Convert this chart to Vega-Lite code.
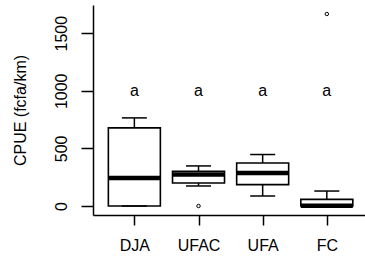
{
  "$schema": "https://vega.github.io/schema/vega-lite/v6.json",
  "autosize": "none",
  "width": 272,
  "height": 210,
  "padding": {"left": 93, "top": 5, "right": 0, "bottom": 43},
  "background": "white",
  "view": {"stroke": "transparent"},
  "config": {
    "view": {"stroke": "transparent"},
    "font": "Liberation Sans",
    "axis": {"grid": false, "domainColor": "black", "tickColor": "black", "labelColor": "black", "titleColor": "black", "domainWidth": 1.5, "tickWidth": 1.5, "labelFont": "Liberation Sans", "titleFont": "Liberation Sans", "titleFontWeight": "normal"}
  },
  "datasets": {
    "stats": [
      {"group": "DJA", "lower": 0, "q1": 0, "median": 243, "q3": 678, "upper": 765},
      {"group": "UFAC", "lower": 174, "q1": 200, "median": 273, "q3": 302, "upper": 348},
      {"group": "UFA", "lower": 87, "q1": 186, "median": 287, "q3": 374, "upper": 447},
      {"group": "FC", "lower": 0, "q1": 0, "median": 2, "q3": 58, "upper": 130}
    ],
    "outliers": [
      {"group": "UFAC", "value": 0},
      {"group": "FC", "value": 1667}
    ],
    "letters": [
      {"group": "DJA", "letter": "a"},
      {"group": "UFAC", "letter": "a"},
      {"group": "UFA", "letter": "a"},
      {"group": "FC", "letter": "a"}
    ]
  },
  "layer": [
    {
      "data": {"name": "stats"},
      "mark": {"type": "rule", "color": "black", "strokeWidth": 1.5},
      "encoding": {
        "x": {"field": "group", "type": "nominal", "sort": ["DJA", "UFAC", "UFA", "FC"],
              "scale": {"type": "point", "padding": 0.62, "align": 0.52},
              "axis": {"orient": "bottom", "title": null, "labelAngle": 0, "tickSize": 10, "labelPadding": 12, "labelFontSize": 16}},
        "y": {"field": "lower", "type": "quantitative",
              "scale": {"domain": [-78, 1745], "nice": false, "zero": false},
              "axis": {"orient": "left", "values": [0, 500, 1000, 1500], "format": "d", "tickSize": 12, "labelAngle": -90, "labelAlign": "center", "labelBaseline": "bottom", "labelPadding": 12, "labelFontSize": 16, "title": "CPUE (fcfa/km)", "titleFontSize": 16, "titlePadding": 25}},
        "y2": {"field": "upper"}
      }
    },
    {
      "mark": {"type": "rule", "color": "black", "strokeWidth": 1.5},
      "encoding": {
        "y": {"datum": 1745, "type": "quantitative"}
      }
    },
    {
      "data": {"name": "stats"},
      "mark": {"type": "bar", "fill": "white", "stroke": "black", "strokeWidth": 1.6, "size": 52},
      "encoding": {
        "x": {"field": "group", "type": "nominal", "sort": ["DJA", "UFAC", "UFA", "FC"]},
        "y": {"field": "q1", "type": "quantitative"},
        "y2": {"field": "q3"}
      }
    },
    {
      "data": {"name": "stats"},
      "mark": {"type": "tick", "color": "black", "size": 52, "thickness": 4.5, "opacity": 1},
      "encoding": {
        "x": {"field": "group", "type": "nominal", "sort": ["DJA", "UFAC", "UFA", "FC"]},
        "y": {"field": "median", "type": "quantitative"}
      }
    },
    {
      "data": {"name": "stats"},
      "mark": {"type": "tick", "color": "black", "size": 25, "thickness": 1.5, "opacity": 1},
      "encoding": {
        "x": {"field": "group", "type": "nominal", "sort": ["DJA", "UFAC", "UFA", "FC"]},
        "y": {"field": "upper", "type": "quantitative"}
      }
    },
    {
      "data": {"name": "stats"},
      "mark": {"type": "tick", "color": "black", "size": 25, "thickness": 1.5, "opacity": 1},
      "encoding": {
        "x": {"field": "group", "type": "nominal", "sort": ["DJA", "UFAC", "UFA", "FC"]},
        "y": {"field": "lower", "type": "quantitative"}
      }
    },
    {
      "data": {"name": "outliers"},
      "mark": {"type": "point", "shape": "circle", "filled": false, "color": "black", "size": 12, "strokeWidth": 1, "opacity": 1},
      "encoding": {
        "x": {"field": "group", "type": "nominal", "sort": ["DJA", "UFAC", "UFA", "FC"]},
        "y": {"field": "value", "type": "quantitative"}
      }
    },
    {
      "data": {"name": "letters"},
      "mark": {"type": "text", "color": "black", "fontSize": 16, "font": "Liberation Sans", "baseline": "middle", "align": "center"},
      "encoding": {
        "x": {"field": "group", "type": "nominal", "sort": ["DJA", "UFAC", "UFA", "FC"]},
        "y": {"datum": 1000, "type": "quantitative"},
        "text": {"field": "letter"}
      }
    }
  ]
}
